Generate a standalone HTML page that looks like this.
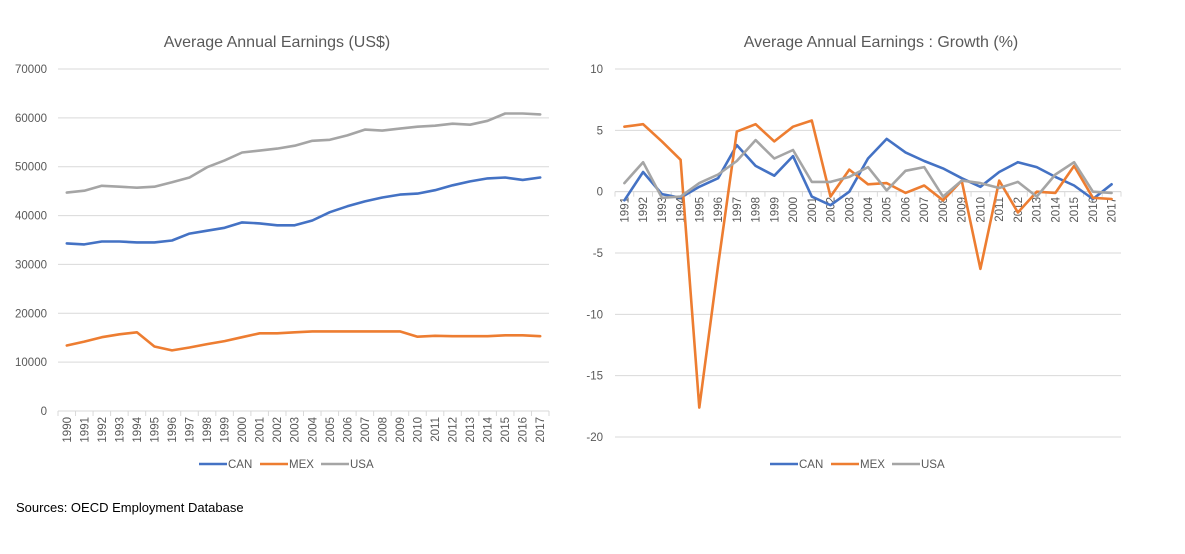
<!DOCTYPE html>
<html><head><meta charset="utf-8"><style>
body{margin:0;background:#fff;width:1185px;height:549px;overflow:hidden;font-family:"Liberation Sans",sans-serif}
svg text{font-family:"Liberation Sans",sans-serif}
</style></head><body>
<svg id="s" width="1185" height="549">
<text x="277" y="47" font-size="16" fill="#595959" text-anchor="middle">Average Annual Earnings (US$)</text>
<text x="881" y="47" font-size="16" fill="#595959" text-anchor="middle">Average Annual Earnings : Growth (%)</text>
<text x="16" y="512" font-size="13" fill="#000">Sources: OECD Employment Database</text>
</svg>
<script>
const yearsL=[1990,1991,1992,1993,1994,1995,1996,1997,1998,1999,2000,2001,2002,2003,2004,2005,2006,2007,2008,2009,2010,2011,2012,2013,2014,2015,2016,2017];
const canL=[34300,34100,34700,34700,34500,34500,34900,36300,36900,37500,38600,38400,38000,38000,39000,40700,41900,42900,43700,44300,44500,45200,46200,47000,47600,47800,47300,47800];
const mexL=[13400,14200,15100,15700,16100,13200,12400,13000,13700,14300,15100,15900,15900,16100,16300,16300,16300,16300,16300,16300,15200,15400,15300,15300,15300,15500,15500,15300];
const usaL=[44700,45100,46100,45900,45700,45900,46800,47800,49900,51300,52900,53300,53700,54300,55300,55500,56400,57600,57400,57800,58200,58400,58800,58600,59400,60900,60900,60700];
const ticksL=[0,10000,20000,30000,40000,50000,60000,70000];
const yearsR=[1991,1992,1993,1994,1995,1996,1997,1998,1999,2000,2001,2002,2003,2004,2005,2006,2007,2008,2009,2010,2011,2012,2013,2014,2015,2016,2017];
const canR=[-0.7,1.6,-0.2,-0.5,0.4,1.1,3.8,2.1,1.3,2.9,-0.4,-1.1,0,2.7,4.3,3.2,2.5,1.9,1.1,0.4,1.6,2.4,2.0,1.2,0.5,-0.6,0.6];
const mexR=[5.3,5.5,4.1,2.6,-17.6,-6.0,4.9,5.5,4.1,5.3,5.8,-0.4,1.8,0.6,0.7,-0.1,0.5,-0.7,0.9,-6.3,0.9,-1.7,0.0,-0.1,2.1,-0.5,-0.6];
const usaR=[0.7,2.4,-0.5,-0.4,0.7,1.4,2.5,4.2,2.7,3.4,0.8,0.8,1.2,2.0,0.1,1.7,2.0,-0.4,0.9,0.7,0.3,0.8,-0.4,1.4,2.4,0.0,-0.1];
const ticksR=[-20,-15,-10,-5,0,5,10];
const NS='http://www.w3.org/2000/svg',svg=document.getElementById('s');
function mk(t,a,p){const e=document.createElementNS(NS,t);for(const k in a)e.setAttribute(k,a[k]);(p||svg).appendChild(e);return e;}
const cols={CAN:'#4472C4',MEX:'#ED7D31',USA:'#A5A5A5'};
function chart(cfg){
  const {x0,x1,ymin,ymax,py0,py1,cats,ticks,series,prefix,labY,legX,labOff}=cfg;
  const n=cats.length,step=(x1-x0)/n;
  const X=i=>x0+step*(i+0.5);
  const Y=v=>py0-(v-ymin)/(ymax-ymin)*(py0-py1);
  const g=mk('g',{});
  
  
  ticks.forEach(t=>{
    const l=mk('line',{x1:x0,x2:x1,y1:Y(t),y2:Y(t),stroke:'#D9D9D9','stroke-width':1},g);
    
    
    const tx=mk('text',{x:x0-labOff,y:Y(t)+4,'font-size':11.5,fill:'#595959','text-anchor':'end'},g);
    tx.textContent=t;
    
    
  });
  const ay=Y(0);
  const ax=mk('line',{x1:x0,x2:x1,y1:ay,y2:ay,stroke:'#D9D9D9','stroke-width':1},g);
  
  
  for(let i=0;i<=n;i++){const tk=mk('line',{x1:x0+step*i,x2:x0+step*i,y1:ay,y2:ay+5,stroke:'#D9D9D9'},g);
    
    }
  cats.forEach((c,i)=>{
    const tx=mk('text',{x:0,y:0,'font-size':11.5,fill:'#595959','text-anchor':'end',transform:`translate(${X(i)+4},${labY}) rotate(-90)`},g);
    tx.textContent=c;
    
    
  });
  Object.keys(series).forEach(k=>{
    const d=series[k].map((v,i)=>(i?'L':'M')+X(i).toFixed(1)+','+Y(v).toFixed(1)).join('');
    const p=mk('path',{d:d,fill:'none',stroke:cols[k],'stroke-width':2.6,'stroke-linejoin':'round','stroke-linecap':'round'},g);
    
    
  });
  let lx=legX;
  Object.keys(series).forEach(k=>{
    const lg=mk('g',{},g);
    
    
    mk('line',{x1:lx,x2:lx+28,y1:464,y2:464,stroke:cols[k],'stroke-width':2.6},lg);
    const t=mk('text',{x:lx+29,y:468,'font-size':11.5,fill:'#595959'},lg);t.textContent=k;
    lx+=61;
  });
}
chart({x0:58,x1:549,ymin:0,ymax:70000,py0:411,py1:69,cats:yearsL,ticks:ticksL,series:{CAN:canL,MEX:mexL,USA:usaL},prefix:'left',labY:417,legX:199,labOff:11});
chart({x0:615,x1:1121,ymin:-20,ymax:10,py0:437,py1:69,cats:yearsR,ticks:ticksR,series:{CAN:canR,MEX:mexR,USA:usaR},prefix:'right',labY:197,legX:770,labOff:12});
</script>
</body></html>
